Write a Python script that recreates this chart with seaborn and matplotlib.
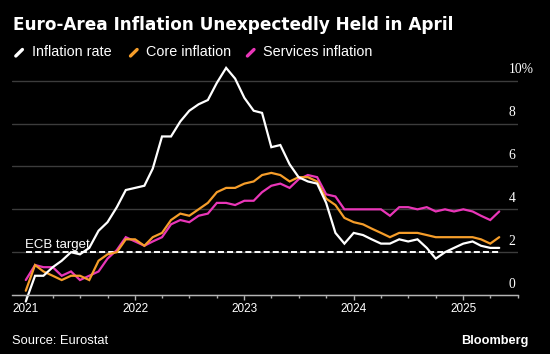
import numpy as np
import pandas as pd
import matplotlib
matplotlib.use("Agg")
import matplotlib.pyplot as plt
import matplotlib.dates as mdates
from matplotlib.lines import Line2D
import seaborn as sns

# ---------------- data ----------------
months = pd.period_range("2020-12", "2025-04", freq="M")
inflation_rate = [-0.3,
                  0.9, 0.9, 1.3, 1.6, 2.0, 1.9, 2.2, 3.0, 3.4, 4.1, 4.9, 5.0,
                  5.1, 5.9, 7.4, 7.4, 8.1, 8.6, 8.9, 9.1, 9.9, 10.6, 10.1, 9.2,
                  8.6, 8.5, 6.9, 7.0, 6.1, 5.5, 5.3, 5.2, 4.3, 2.9, 2.4, 2.9,
                  2.8, 2.6, 2.4, 2.4, 2.6, 2.5, 2.6, 2.2, 1.7, 2.0, 2.2, 2.4,
                  2.5, 2.3, 2.2, 2.2]
core_inflation = [0.2,
                  1.4, 1.1, 0.9, 0.7, 0.9, 0.9, 0.7, 1.6, 1.9, 2.0, 2.6, 2.6,
                  2.3, 2.7, 2.9, 3.5, 3.8, 3.7, 4.0, 4.3, 4.8, 5.0, 5.0, 5.2,
                  5.3, 5.6, 5.7, 5.6, 5.3, 5.5, 5.5, 5.3, 4.5, 4.2, 3.6, 3.4,
                  3.3, 3.1, 2.9, 2.7, 2.9, 2.9, 2.9, 2.8, 2.7, 2.7, 2.7, 2.7,
                  2.7, 2.6, 2.4, 2.7]
services_inflation = [0.7,
                      1.4, 1.3, 1.3, 0.9, 1.1, 0.7, 0.9, 1.1, 1.7, 2.1, 2.7, 2.5,
                      2.3, 2.5, 2.7, 3.3, 3.5, 3.4, 3.7, 3.8, 4.3, 4.3, 4.2, 4.4,
                      4.4, 4.8, 5.1, 5.2, 5.0, 5.4, 5.6, 5.5, 4.7, 4.6, 4.0, 4.0,
                      4.0, 4.0, 4.0, 3.7, 4.1, 4.1, 4.0, 4.1, 3.9, 4.0, 3.9, 4.0,
                      3.9, 3.7, 3.5, 3.9]
series_names = ["Inflation rate", "Core inflation", "Services inflation"]
series_colors = ["#ffffff", "#f59d2a", "#e936b8"]
ecb_target = 2
y_ticks = [0, 2, 4, 6, 8, 10]
y_tick_labels = ["0", "2", "4", "6", "8", "10%"]

# monthly observations plotted at the end of their month
dates = months.to_timestamp(how="start") + pd.offsets.MonthBegin(1)
df = pd.concat([
    pd.DataFrame({"date": dates, "value": vals, "series": name})
    for name, vals in zip(series_names,
                          [inflation_rate, core_inflation, services_inflation])
], ignore_index=True)

# ---------------- style ----------------
sns.set_style("dark", rc={"axes.facecolor": "black", "figure.facecolor": "black"})
plt.rcParams["font.family"] = ["Liberation Sans", "DejaVu Sans"]

W, H = 550, 354
fig = plt.figure(figsize=(W / 100, H / 100), dpi=100, facecolor="black")
ax_left, ax_right = 12.3, 517.5
ax_top, ax_bot = 63.6, 307.9
ax = fig.add_axes([ax_left / W, (H - ax_bot) / H,
                   (ax_right - ax_left) / W, (ax_bot - ax_top) / H])
ax.set_facecolor("black")

palette = dict(zip(series_names, series_colors))
sns.lineplot(data=df, x="date", y="value", hue="series",
             hue_order=["Services inflation", "Core inflation", "Inflation rate"],
             palette=palette, linewidth=1.6, legend=False, ax=ax,
             solid_joinstyle="miter")

# ECB target
ax.hlines(ecb_target, dates.min(), dates.max(), colors="white",
          linewidth=1.4, linestyles=(0, (3.1, 1.6)), zorder=1.8)
ax.annotate("ECB target", xy=(dates.min(), ecb_target), xytext=(-0.7, 3),
            textcoords="offset points", ha="left", va="baseline",
            color="white", fontsize=9.5)

# axes limits / ticks
ax.set_xlim(pd.Timestamp("2020-11-17"), pd.Timestamp("2025-07-01"))
ax.set_ylim(-0.6, 10.8)
ax.set_xlabel("")
ax.set_ylabel("")
ax.set_yticks(y_ticks)
ax.tick_params(axis="y", left=False, right=False, labelleft=False)
ax.grid(axis="y", color="#3c3c3c", linewidth=1.0)
ax.grid(axis="x", visible=False)
ax.set_axisbelow(True)

for s in ["top", "left", "right"]:
    ax.spines[s].set_visible(False)
ax.spines["bottom"].set_position(("data", 0))
ax.spines["bottom"].set_color("#b4b4b4")
ax.spines["bottom"].set_linewidth(1.0)
ax.spines["bottom"].set_zorder(2.5)

ax.xaxis.set_major_locator(mdates.YearLocator())
ax.xaxis.set_major_formatter(mdates.DateFormatter("%Y"))
ax.xaxis.set_minor_locator(mdates.MonthLocator(bymonth=[4, 7, 10]))
ax.tick_params(axis="x", which="major", bottom=True, length=3.5, width=1.0,
               color="#b4b4b4", labelcolor="white", labelsize=8.5, pad=2.5)
ax.tick_params(axis="x", which="minor", bottom=True, length=2.0, width=1.0,
               color="#b4b4b4")

# right-side value labels sitting above the gridlines
for v, lab in zip(y_ticks, y_tick_labels):
    ax.annotate(lab, xy=(0.982, v), xycoords=("axes fraction", "data"),
                xytext=(0, 5.3), textcoords="offset points",
                ha="left", va="baseline", color="white", fontsize=9.8,
                family=["Liberation Serif", "DejaVu Serif"])

# ---------------- title / legend / footer ----------------
def fy(py):
    return (H - py) / H

fig.text(13.3 / W, fy(30), "Euro-Area Inflation Unexpectedly Held in April",
         color="white", fontsize=12.2, fontweight="bold",
         family=["DejaVu Sans"], ha="left", va="baseline")

legend_text_x = [31.6, 146.3, 263.2]
for name, col, tx in zip(series_names, series_colors, legend_text_x):
    cx = tx - 12.5
    fig.add_artist(Line2D([(cx - 3.3) / W, (cx + 3.3) / W], [fy(56), fy(49.5)],
                          color=col, linewidth=2.4, solid_capstyle="round",
                          transform=fig.transFigure))
    fig.text(tx / W, fy(56.5), name, color="white", fontsize=10.4,
             ha="left", va="baseline")

fig.text(12.3 / W, fy(344), "Source: Eurostat", color="white", fontsize=9.3,
         ha="left", va="baseline")
fig.text(529 / W, fy(344), "Bloomberg", color="white", fontsize=9.2,
         fontweight="bold", ha="right", va="baseline")

fig.savefig("out.png", dpi=100, facecolor="black")
